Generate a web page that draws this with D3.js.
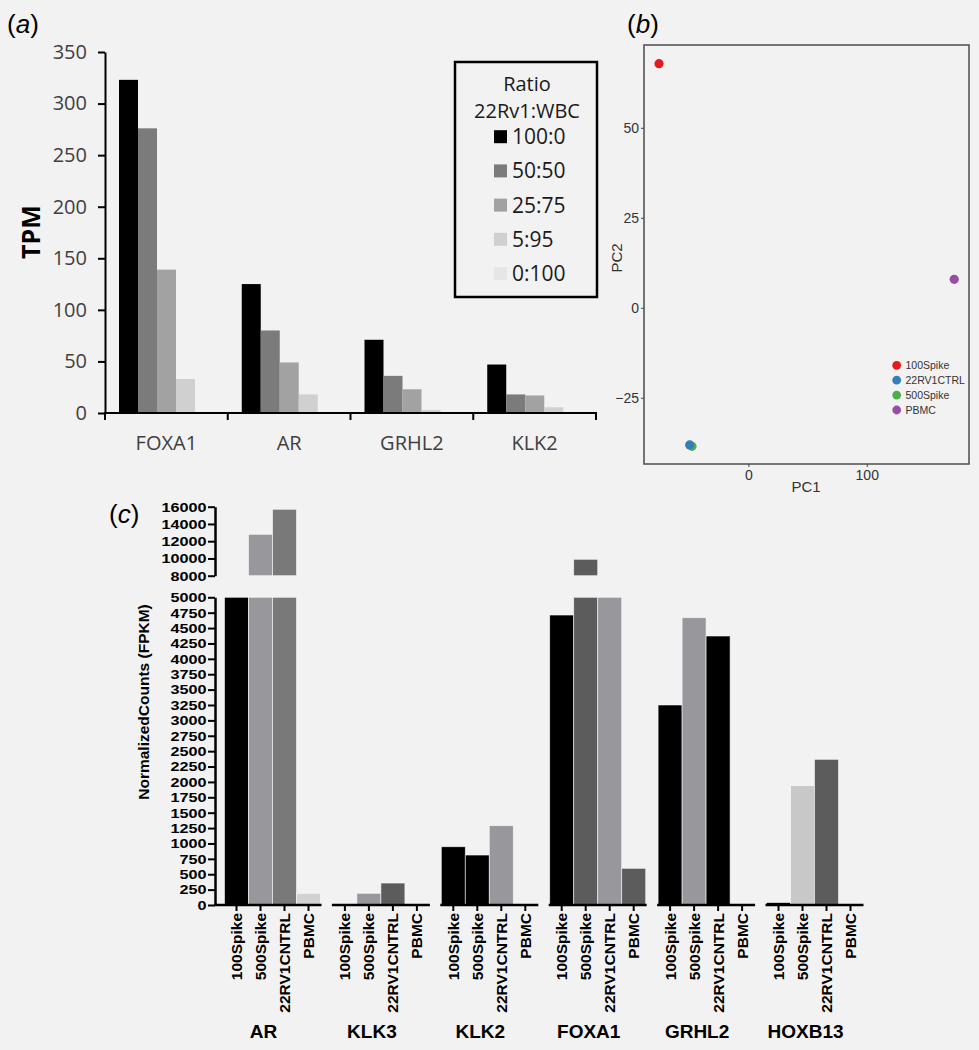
<!DOCTYPE html>
<html>
<head>
<meta charset="utf-8">
<script src="https://cdn.jsdelivr.net/npm/d3@7"></script>
<style>
    body { margin: 0; background: #f2f2f2; }
    svg { display: block; }
</style>
</head>
<body>
<div id="chart"></div>
<script>
/*global d3*/
// panel (a): TPM by gene and mixing ratio
var genesA = ["FOXA1", "AR", "GRHL2", "KLK2"];
var ratiosA = ["100:0", "50:50", "25:75", "5:95", "0:100"];
var tpm100_0 = [323, 125, 71, 47];
var tpm50_50 = [276, 80, 36, 18];
var tpm25_75 = [139, 49, 23, 17];
var tpm5_95 = [33, 18, 3, 5.5];
var tpm0_100 = [0.4, 0.3, 0.2, 0.2];
var tpmTicks = [0, 50, 100, 150, 200, 250, 300, 350];

// panel (b): PCA
var pcaSamples = ["100Spike", "22RV1CTRL", "500Spike", "PBMC"];
var pc1 = [-75.5, -49.6, -47.7, 173.9];
var pc2 = [67.8, -38.1, -38.5, 7.9];
var pc1Ticks = [0, 100];
var pc2Ticks = [-25, 0, 25, 50];

// panel (c): normalized counts, broken axis
var genesC = ["AR", "KLK3", "KLK2", "FOXA1", "GRHL2", "HOXB13"];
var samplesC = ["100Spike", "500Spike", "22RV1CNTRL", "PBMC"];
var fpkm100Spike = [5000, 0, 947, 4712, 3250, 40];
var fpkm500Spike = [12800, 190, 812, 9900, 4669, 1939];
var fpkm22RV1CNTRL = [15700, 357, 1289, 5000, 4371, 2367];
var fpkmPBMC = [190, 0, 0, 596, 0, 0];
var lowTicks = d3.range(0, 5001, 250);
var highTicks = [8000, 10000, 12000, 14000, 16000];

(function () {
    "use strict";
    var svg, tpm, xA, xInA, yA, shadesA, legend,
        xB, yB, pcaColors, plotB, drawOrder,
        fpkm, shadesC, xC, xInC, yLow, yHigh, groups, bars,
        sansA = "'Open Sans', sans-serif",
        arial = "'Liberation Sans', Arial, sans-serif";

    svg = d3.select('#chart').append('svg')
        .attr("width", 979)
        .attr("height", 1050);

    // ---------- (a) ----------
    tpm = [tpm100_0, tpm50_50, tpm25_75, tpm5_95, tpm0_100];
    shadesA = ["#000000", "#7b7b7b", "#a2a2a2", "#d0d0d0", "#e6e6e6"];

    xA = d3.scaleBand().domain(genesA).range([105, 596]);
    xInA = d3.scaleBand().domain(ratiosA).range([14, 109]);
    yA = d3.scaleLinear().domain([0, 350]).range([413, 52]);

    svg.append('text').attr("x", 7).attr("y", 33)
        .style("font-family", arial).style("font-size", "26px")
        .html('(<tspan font-style="italic">a</tspan>)');

    ratiosA.forEach(function (r, ri) {
        svg.append('g').selectAll('rect').data(genesA).enter().append('rect')
            .attr('x', function (g) {
                return xA(g) + xInA(r);
            })
            .attr('width', xInA.bandwidth())
            .attr('y', function (g, gi) {
                return yA(tpm[ri][gi]);
            })
            .attr('height', function (g, gi) {
                return yA(0) - yA(tpm[ri][gi]);
            })
            .attr('fill', shadesA[ri]);
    });

    svg.append('g').attr("transform", "translate(105,0)")
        .call(d3.axisLeft(yA).tickValues(tpmTicks).tickSize(7).tickSizeOuter(0).tickPadding(11))
        .call(function (g) {
            g.select('.domain').attr("stroke-width", 2);
            g.selectAll('.tick line').attr("stroke-width", 2);
            g.selectAll('text').style("font-family", sansA).style("font-size", "20px")
                .attr("fill", "#404040");
        });

    svg.append('line').attr("x1", 104).attr("x2", 597)
        .attr("y1", yA(0)).attr("y2", yA(0))
        .attr("stroke", "#000").attr("stroke-width", 2);
    svg.append('g').selectAll('line').data(genesA.concat([null])).enter().append('line')
        .attr('x1', function (g) {
            return g === null ? xA.range()[1] : xA(g);
        })
        .attr('x2', function (g) {
            return g === null ? xA.range()[1] : xA(g);
        })
        .attr('y1', yA(0)).attr('y2', yA(0) + 7)
        .attr("stroke", "#000").attr("stroke-width", 2);
    svg.append('g').selectAll('text').data(genesA).enter().append('text')
        .attr('x', function (g) {
            return xA(g) + xA.bandwidth() / 2;
        })
        .attr('y', 450)
        .attr("text-anchor", "middle")
        .style("font-family", sansA).style("font-size", "20px")
        .attr("fill", "#404040")
        .text(function (g) {
            return g;
        });

    svg.append('text')
        .attr("transform", "translate(40,232) rotate(-90)")
        .attr("text-anchor", "middle")
        .style("font-family", sansA).style("font-size", "25px").style("font-weight", "bold")
        .text("TPM");

    legend = svg.append('g');
    legend.append('rect').attr("x", 455).attr("y", 62).attr("width", 142).attr("height", 235)
        .attr("fill", "none").attr("stroke", "#000").attr("stroke-width", 2.5);
    legend.append('text').attr("x", 527).attr("y", 91).attr("text-anchor", "middle")
        .style("font-family", sansA).style("font-size", "20px").attr("fill", "#1a1a1a")
        .text("Ratio");
    legend.append('text').attr("x", 527).attr("y", 118).attr("text-anchor", "middle")
        .style("font-family", sansA).style("font-size", "20px").attr("fill", "#1a1a1a")
        .text("22Rv1:WBC");
    ratiosA.forEach(function (r, ri) {
        var cy = 136.7 + ri * 34.2;
        legend.append('rect').attr("x", 494).attr("y", cy - 6.5).attr("width", 13).attr("height", 13)
            .attr("fill", shadesA[ri]);
        legend.append('text').attr("x", 512).attr("y", cy + 7.5)
            .style("font-family", sansA).style("font-size", "21px").attr("fill", "#1a1a1a")
            .text(r);
    });

    // ---------- (b) ----------
    pcaColors = ["#e41a1c", "#377eb8", "#4daf4a", "#984ea3"];
    xB = d3.scaleLinear().domain([-88.2, 186.4]).range([644, 969]);
    yB = d3.scaleLinear().domain([-43.4, 73]).range([464, 45]);

    svg.append('text').attr("x", 627).attr("y", 33)
        .style("font-family", arial).style("font-size", "26px")
        .html('(<tspan font-style="italic">b</tspan>)');

    plotB = svg.append('g');
    plotB.append('rect').attr("x", 644).attr("y", 45).attr("width", 325).attr("height", 419)
        .attr("fill", "none").attr("stroke", "#555").attr("stroke-width", 1.6);

    plotB.append('g').attr("transform", "translate(0,464)")
        .call(d3.axisBottom(xB).tickValues(pc1Ticks).tickSize(3).tickPadding(3))
        .call(function (g) {
            g.select('.domain').remove();
            g.selectAll('.tick line').attr("stroke", "#444");
            g.selectAll('text').style("font-family", arial).style("font-size", "14px")
                .attr("fill", "#333");
        });
    plotB.append('g').attr("transform", "translate(644,0)")
        .call(d3.axisLeft(yB).tickValues(pc2Ticks).tickSize(3).tickPadding(2))
        .call(function (g) {
            g.select('.domain').remove();
            g.selectAll('.tick line').attr("stroke", "#444");
            g.selectAll('text').style("font-family", arial).style("font-size", "14px")
                .attr("fill", "#333");
        });

    plotB.append('text').attr("x", 806).attr("y", 492).attr("text-anchor", "middle")
        .style("font-family", arial).style("font-size", "15px").attr("fill", "#333")
        .text("PC1");
    plotB.append('text').attr("transform", "translate(622,258) rotate(-90)")
        .attr("text-anchor", "middle")
        .style("font-family", arial).style("font-size", "15px").attr("fill", "#333")
        .text("PC2");

    drawOrder = [0, 2, 1, 3];
    plotB.append('g').selectAll('circle').data(drawOrder).enter().append('circle')
        .attr('cx', function (i) {
            return xB(pc1[i]);
        })
        .attr('cy', function (i) {
            return yB(pc2[i]);
        })
        .attr('r', 4.6)
        .attr('fill', function (i) {
            return pcaColors[i];
        });

    pcaSamples.forEach(function (s, i) {
        var cy = 365.3 + i * 14.9;
        plotB.append('circle').attr("cx", 896.7).attr("cy", cy).attr("r", 4.4)
            .attr("fill", pcaColors[i]);
        plotB.append('text').attr("x", 905.5).attr("y", cy + 3.8)
            .style("font-family", arial).style("font-size", "10.5px").attr("fill", "#333")
            .text(s);
    });

    // ---------- (c) ----------
    fpkm = [fpkm100Spike, fpkm500Spike, fpkm22RV1CNTRL, fpkmPBMC];
    shadesC = [
        ["#000000", "#98979c", "#797979", "#d2d2d2"],
        ["#000000", "#98979c", "#5c5c5c", "#000000"],
        ["#000000", "#000000", "#98979c", "#000000"],
        ["#000000", "#5c5c5c", "#98979c", "#5c5c5c"],
        ["#000000", "#98979c", "#000000", "#000000"],
        ["#000000", "#c8c8c8", "#5c5c5c", "#000000"]
    ];

    xC = d3.scaleBand().domain(genesC).range([218.3, 868.7]);
    xInC = d3.scaleBand().domain(samplesC).range([-48, 48]);
    yLow = d3.scaleLinear().domain([0, 5000]).range([905, 597.3]);
    yHigh = d3.scaleLinear().domain([8000, 16000]).range([575.7, 506.7]);

    function centre(g) {
        return xC(g) + xC.bandwidth() / 2;
    }

    svg.append('text').attr("x", 109).attr("y", 523)
        .style("font-family", arial).style("font-size", "26px")
        .html('(<tspan font-style="italic">c</tspan>)');

    groups = svg.append('g').selectAll('g').data(genesC).enter().append('g')
        .attr("transform", function (g) {
            return "translate(" + centre(g) + ",0)";
        });

    bars = groups.selectAll('g.bar').data(function (g, gi) {
        return samplesC.map(function (s, si) {
            return {gene: gi, sample: s, si: si, v: fpkm[si][gi]};
        });
    }).enter().append('g').attr('class', 'bar');

    bars.filter(function (d) {
        return d.v > 0;
    }).append('rect')
        .attr('x', function (d) {
            return xInC(d.sample);
        })
        .attr('width', xInC.bandwidth())
        .attr('y', function (d) {
            return yLow(Math.min(d.v, 5000));
        })
        .attr('height', function (d) {
            return yLow(0) - yLow(Math.min(d.v, 5000));
        })
        .attr('fill', function (d) {
            return shadesC[d.gene][d.si];
        })
        .attr('stroke', "#ffffff").attr('stroke-width', 0.8).attr('stroke-opacity', 0.7);

    bars.filter(function (d) {
        return d.v > 8000;
    }).append('rect')
        .attr('x', function (d) {
            return xInC(d.sample);
        })
        .attr('width', xInC.bandwidth())
        .attr('y', function (d) {
            return yHigh(Math.min(d.v, 16000));
        })
        .attr('height', function (d) {
            return yHigh(8000) - yHigh(Math.min(d.v, 16000));
        })
        .attr('fill', function (d) {
            return shadesC[d.gene][d.si];
        })
        .attr('stroke', "#ffffff").attr('stroke-width', 0.8).attr('stroke-opacity', 0.7);

    // x axis segments with ticks and sample labels
    groups.append('line')
        .attr('x1', function (g, gi) {
            return gi === 0 ? 214 - centre(g) : -49;
        })
        .attr('x2', 49)
        .attr('y1', 905).attr('y2', 905)
        .attr("stroke", "#000").attr("stroke-width", 2.5);
    groups.selectAll('line.tk').data(samplesC).enter().append('line').attr('class', 'tk')
        .attr('x1', function (s) {
            return xInC(s) + xInC.bandwidth() / 2;
        })
        .attr('x2', function (s) {
            return xInC(s) + xInC.bandwidth() / 2;
        })
        .attr('y1', 905).attr('y2', 911)
        .attr("stroke", "#000").attr("stroke-width", 2);
    groups.selectAll('text.sm').data(samplesC).enter().append('text').attr('class', 'sm')
        .attr("transform", function (s) {
            return "translate(" + (xInC(s) + xInC.bandwidth() / 2) + ",913) rotate(-90)";
        })
        .attr("dy", "0.36em")
        .attr("text-anchor", "end")
        .style("font-family", arial).style("font-size", "15.5px").style("font-weight", "bold")
        .text(function (s) {
            return s;
        });
    groups.append('text')
        .attr('x', -9).attr('y', 1038)
        .attr("text-anchor", "middle")
        .style("font-family", arial).style("font-size", "19px").style("font-weight", "bold")
        .text(function (g) {
            return g;
        });

    // broken y axis, labels slightly widened as in the figure
    function styleC(g) {
        g.select('.domain').attr("stroke-width", 2.5);
        g.selectAll('.tick line').attr("stroke-width", 2);
        g.selectAll('text')
            .attr("x", -8.5 / 1.2)
            .attr("transform", "scale(1.2,1)")
            .style("font-family", arial).style("font-size", "13.5px")
            .style("font-weight", "bold").attr("fill", "#000");
    }
    svg.append('g').attr("transform", "translate(215,0)")
        .call(d3.axisLeft(yLow).tickValues(lowTicks).tickFormat(d3.format("d"))
            .tickSize(7).tickSizeOuter(0).tickPadding(1.5))
        .call(styleC);
    svg.append('g').attr("transform", "translate(215,0)")
        .call(d3.axisLeft(yHigh).tickValues(highTicks).tickFormat(d3.format("d"))
            .tickSize(7).tickSizeOuter(0).tickPadding(1.5))
        .call(styleC);

    svg.append('text')
        .attr("transform", "translate(149,702) rotate(-90)")
        .attr("text-anchor", "middle")
        .style("font-family", arial).style("font-size", "15.5px").style("font-weight", "bold")
        .text("NormalizedCounts (FPKM)");
}());
</script>
</body>
</html>
